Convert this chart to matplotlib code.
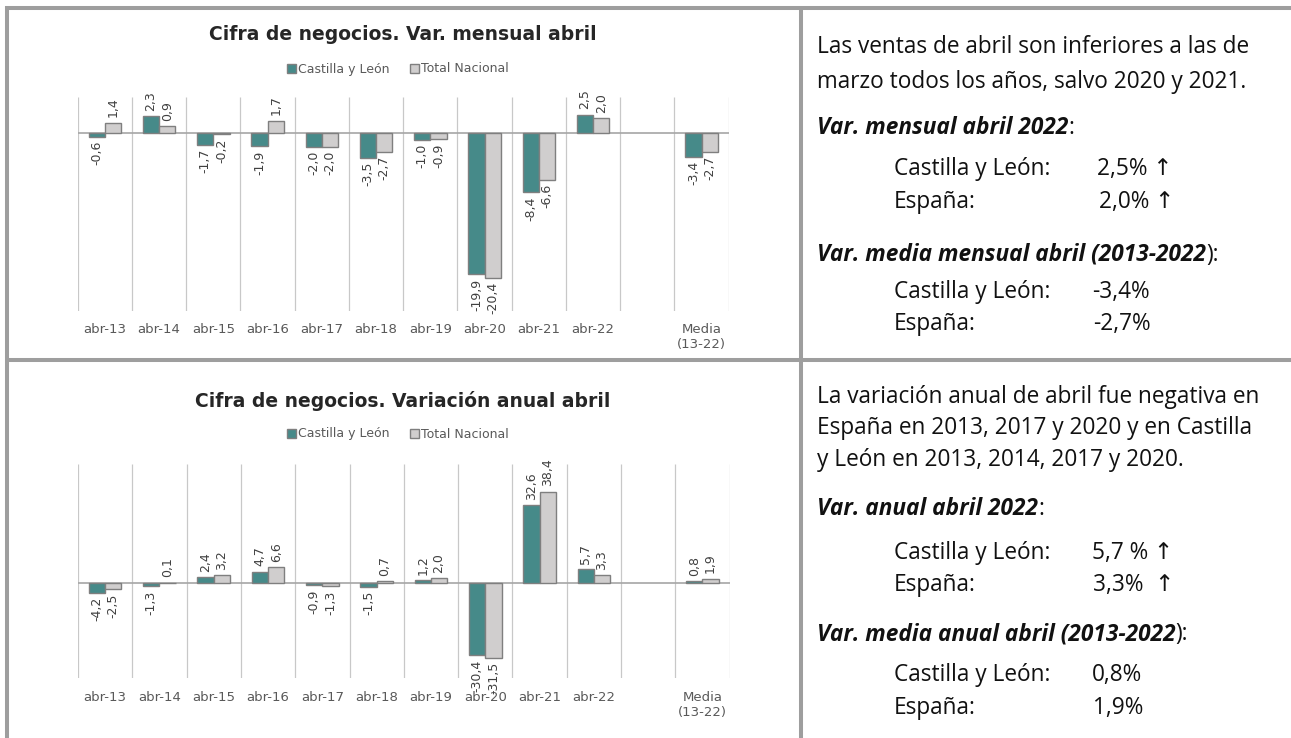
import numpy as np
import matplotlib.pyplot as plt
from matplotlib.lines import Line2D

plt.rcParams["font.family"] = ["DejaVu Sans"]

categorias = ["abr-13", "abr-14", "abr-15", "abr-16", "abr-17", "abr-18",
              "abr-19", "abr-20", "abr-21", "abr-22", "", "Media\n(13-22)"]
series = ["Castilla y León", "Total Nacional"]

mensual_cyl = [-0.6, 2.3, -1.7, -1.9, -2.0, -3.5, -1.0, -19.9, -8.4, 2.5, np.nan, -3.4]
mensual_nac = [1.4, 0.9, -0.2, 1.7, -2.0, -2.7, -0.9, -20.4, -6.6, 2.0, np.nan, -2.7]
anual_cyl = [-4.2, -1.3, 2.4, 4.7, -0.9, -1.5, 1.2, -30.4, 32.6, 5.7, np.nan, 0.8]
anual_nac = [-2.5, 0.1, 3.2, 6.6, -1.3, 0.7, 2.0, -31.5, 38.4, 3.3, np.nan, 1.9]

TEAL = "#468a89"
GRIS = "#d0cece"
BORDE = "#7f7f7f"
TXT = ["Open Sans", "DejaVu Sans"]

W, H = 1291, 738
fig = plt.figure(figsize=(W / 100, H / 100), dpi=100)


def caja(x0, y0, x1, y1):
    # pixel box -> figure rect
    return [x0 / W, 1 - y1 / H, (x1 - x0) / W, (y1 - y0) / H]


def fmt(v):
    return f"{v:.1f}".replace(".", ",")


def grafico(rect, cyl, nac, ylim, titulo, ytit, yleg):
    ax = fig.add_axes(rect)
    x = np.arange(len(categorias))
    w = 0.3
    ax.set_xlim(-0.5, len(categorias) - 0.5)
    ax.set_ylim(*ylim)
    ax.vlines(np.arange(-0.5, len(categorias)), ylim[0], ylim[1],
              color="#c8c8c8", lw=0.9, zorder=0)
    ax.axhline(0, color="#a6a6a6", lw=1.2, zorder=1)
    ax.bar(x - w / 2, cyl, w, color=TEAL, edgecolor=BORDE, lw=1,
           label=series[0], zorder=2)
    ax.bar(x + w / 2, nac, w, color=GRIS, edgecolor=BORDE, lw=1,
           label=series[1], zorder=2)
    for xs, vals in ((x - w / 2, cyl), (x + w / 2, nac)):
        for xi, v in zip(xs, vals):
            if np.isnan(v):
                continue
            ax.annotate(fmt(v), (xi, v), xytext=(0, 4 if v >= 0 else -3),
                        textcoords="offset points", rotation=90,
                        ha="center", va="bottom" if v >= 0 else "top",
                        fontsize=9, color="#404040", annotation_clip=False)
    ax.set_xticks(x, categorias)
    ax.tick_params(axis="x", length=0, pad=9, labelsize=9.5, labelcolor="#595959")
    ax.set_yticks([])
    for s in ax.spines.values():
        s.set_visible(False)
    fig.text(403 / W, 1 - ytit / H, titulo, ha="center", va="center",
             fontsize=13.5, weight="bold", color="#262626")
    ax.legend(loc="center", bbox_to_anchor=(398 / W, 1 - yleg / H),
              bbox_transform=fig.transFigure, ncol=2, frameon=False,
              fontsize=9, handlelength=0.7, handleheight=0.7,
              handletextpad=0.2, columnspacing=1.6, labelcolor="#595959")
    return ax


grafico(caja(77.7, 97, 728.7, 310.7), mensual_cyl, mensual_nac, (-25, 5),
        "Cifra de negocios. Var. mensual abril", 34, 69)
grafico(caja(78, 464, 729.6, 678.3), anual_cyl, anual_nac, (-40, 50),
        "Cifra de negocios. Variación anual abril", 401, 434)

# marco de la tabla
marco = dict(color="#9e9e9e", lw=2.9, solid_capstyle="butt")
for (x0, y0, x1, y1) in [(5, 7.5, W, 7.5), (7, 6, 7, H), (800.5, 6, 800.5, H),
                         (5, 360, W, 360)]:
    fig.add_artist(Line2D([x0 / W, x1 / W], [1 - y0 / H, 1 - y1 / H],
                          transform=fig.transFigure, **marco))


def t(x, y, s, **kw):
    return fig.text(x / W, 1 - y / H, s, va="center", family=TXT,
                    fontsize=16.3, color="#111111", **kw)


def encabezado(x, y, negrita, resto):
    a = t(x, y, negrita, weight="bold", style="italic")
    fig.canvas.draw()
    bb = a.get_window_extent()
    t(bb.x1, y, resto)


# bloque superior
t(817, 47, "Las ventas de abril son inferiores a las de")
t(817, 82, "marzo todos los años, salvo 2020 y 2021.")
encabezado(817, 128, "Var. mensual abril 2022", ":")
t(894, 169, "Castilla y León:")
t(1097, 169, "2,5% ↑")
t(894, 202, "España:")
t(1099, 202, "2,0% ↑")
encabezado(817, 255, "Var. media mensual abril (2013-2022", "):")
t(894, 292, "Castilla y León:")
t(1092, 292, "-3,4%")
t(894, 324, "España:")
t(1093, 324, "-2,7%")

# bloque inferior
t(817, 397, "La variación anual de abril fue negativa en")
t(817, 428, "España en 2013, 2017 y 2020 y en Castilla")
t(817, 460, "y León en 2013, 2014, 2017 y 2020.")
encabezado(817, 509, "Var. anual abril 2022", ":")
t(894, 553, "Castilla y León:")
t(1092, 553, "5,7 % ↑")
t(894, 585, "España:")
t(1093, 585, "3,3%  ↑")
encabezado(817, 634, "Var. media anual abril (2013-2022", "):")
t(894, 675, "Castilla y León:")
t(1092, 675, "0,8%")
t(894, 708, "España:")
t(1093, 708, "1,9%")

fig.savefig("out.png", dpi=100, facecolor="white")
